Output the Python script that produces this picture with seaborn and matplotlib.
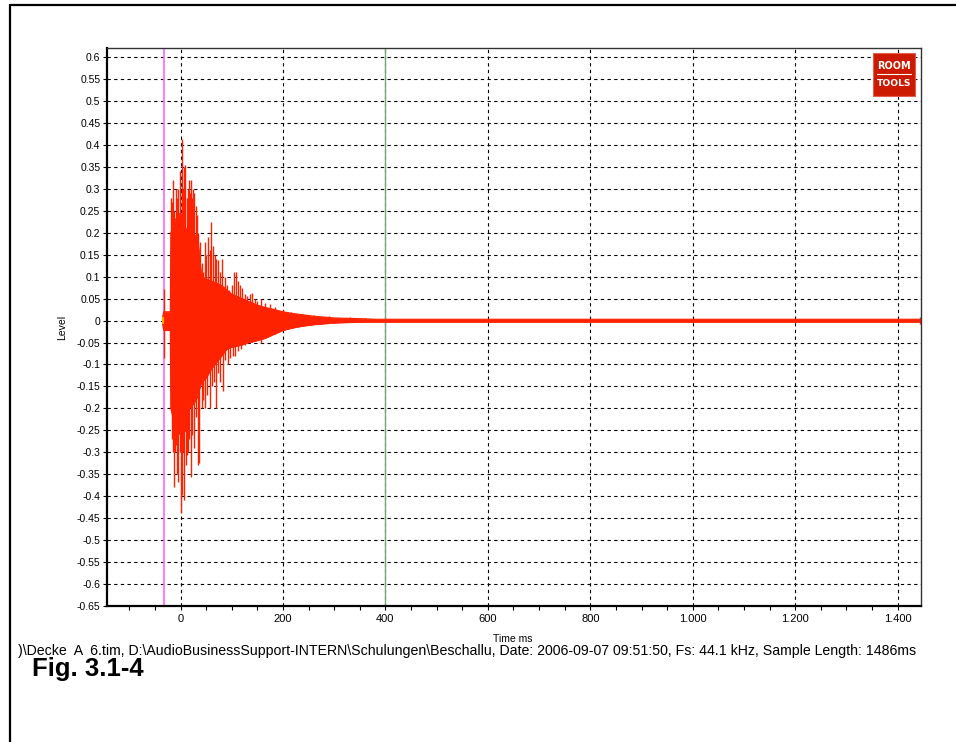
import numpy as np
import pandas as pd
import matplotlib
matplotlib.use("Agg")
import matplotlib.pyplot as plt
import seaborn as sns
from matplotlib.lines import Line2D
from matplotlib.patches import Rectangle
from matplotlib.ticker import FixedLocator, MultipleLocator

# ---------------- data ----------------
# solid body of the impulse response (envelope), time in ms
body_t = [-35, -33, -30, -25, -20, -19, -15, -10, -5, 0, 5, 10, 15, 20, 25, 30, 34, 38, 41,
          50, 60, 70, 80, 90, 100, 110, 120, 130, 140, 150, 165, 180, 200, 220, 240, 260,
          280, 300, 330, 360, 380, 400, 1440, 1445]
body_hi = [0.008, 0.02, 0.02, 0.02, 0.02, 0.2, 0.21, 0.23, 0.24, 0.245, 0.23, 0.21, 0.2, 0.2,
           0.2, 0.19, 0.18, 0.13, 0.1, 0.095, 0.09, 0.085, 0.08, 0.07, 0.06, 0.055, 0.05,
           0.045, 0.04, 0.035, 0.03, 0.026, 0.02, 0.016, 0.013, 0.01, 0.008, 0.006, 0.005,
           0.004, 0.003, 0.003, 0.003, 0.003]
body_lo = [-0.008, -0.022, -0.022, -0.022, -0.022, -0.2, -0.22, -0.25, -0.255, -0.26, -0.255,
           -0.25, -0.2, -0.195, -0.19, -0.18, -0.17, -0.15, -0.14, -0.13, -0.11, -0.095,
           -0.08, -0.065, -0.06, -0.058, -0.055, -0.05, -0.048, -0.045, -0.04, -0.032,
           -0.022, -0.016, -0.012, -0.009, -0.007, -0.005, -0.004, -0.003, -0.003, -0.003,
           -0.003, -0.003]

# positive peaks (ms, level)
pos_t = [-32, -19, -17, -14, -12, -9, -7, -4, -1, 2, 4, 6, 9, 12, 15, 17, 19, 21, 23, 25,
         27, 30, 32, 35, 38, 41, 44, 47, 50, 54, 57, 59, 63, 67, 70, 74, 78, 81, 86, 90, 95,
         100, 104, 108, 112, 116, 120, 125, 130, 135, 140, 145, 150, 158, 165, 175, 185,
         200, 215, 235, 260, 290, 330, 360, 1443]
pos_v = [0.073, 0.28, 0.27, 0.32, 0.25, 0.30, 0.28, 0.30, 0.34, 0.414, 0.30, 0.35, 0.354,
         0.28, 0.30, 0.32, 0.29, 0.32, 0.28, 0.30, 0.29, 0.26, 0.24, 0.2, 0.18, 0.13, 0.11,
         0.18, 0.15, 0.19, 0.16, 0.225, 0.17, 0.15, 0.14, 0.137, 0.11, 0.14, 0.1, 0.08,
         0.07, 0.08, 0.11, 0.11, 0.09, 0.08, 0.075, 0.06, 0.055, 0.06, 0.062, 0.05, 0.045,
         0.05, 0.04, 0.038, 0.032, 0.025, 0.02, 0.016, 0.013, 0.01, 0.008, 0.005, 0.008]

# negative peaks (ms, level)
neg_t = [-32, -19, -17, -15, -12.5, -10, -8, -6, -4.7, -2, 0.6, 3, 5, 7, 10, 12, 14, 17,
         19.5, 23, 26.6, 30, 34, 36, 41, 44, 48, 52, 57, 61, 65, 70, 74, 78, 83, 87, 92,
         97, 102, 106, 112, 118, 125, 132, 140, 150, 158, 170, 185, 200, 220, 245, 270,
         300, 340, 1443]
neg_v = [-0.086, -0.2, -0.27, -0.3, -0.378, -0.3, -0.284, -0.35, -0.367, -0.3, -0.439,
         -0.397, -0.3, -0.409, -0.33, -0.306, -0.3, -0.27, -0.356, -0.26, -0.291, -0.22,
         -0.329, -0.325, -0.2, -0.18, -0.2, -0.17, -0.2, -0.15, -0.14, -0.2, -0.12, -0.14,
         -0.16, -0.09, -0.1, -0.085, -0.08, -0.08, -0.07, -0.065, -0.055, -0.05, -0.048,
         -0.045, -0.05, -0.035, -0.03, -0.022, -0.016, -0.011, -0.008, -0.005, -0.004,
         -0.008]

# cursor markers (ms)
cursor_left = -32.6
cursor_right = 400

# axis ticks
x_ticks = [0, 200, 400, 600, 800, 1000, 1200, 1400]
x_tick_labels = ["0", "200", "400", "600", "800", "1.000", "1.200", "1.400"]
y_ticks = [0.6, 0.55, 0.5, 0.45, 0.4, 0.35, 0.3, 0.25, 0.2, 0.15, 0.1, 0.05, 0,
           -0.05, -0.1, -0.15, -0.2, -0.25, -0.3, -0.35, -0.4, -0.45, -0.5, -0.55,
           -0.6, -0.65]
y_tick_labels = ["0.6", "0.55", "0.5", "0.45", "0.4", "0.35", "0.3", "0.25", "0.2",
                 "0.15", "0.1", "0.05", "0", "-0.05", "-0.1", "-0.15", "-0.2", "-0.25",
                 "-0.3", "-0.35", "-0.4", "-0.45", "-0.5", "-0.55", "-0.6", "-0.65"]

footer = (")\\Decke  A  6.tim, D:\\AudioBusinessSupport-INTERN\\Schulungen\\Beschallu, "
          "Date: 2006-09-07 09:51:50, Fs: 44.1 kHz, Sample Length: 1486ms")

# ---------------- drawing ----------------
sns.set_theme(style="white")
plt.rcParams['font.family'] = ['Liberation Sans', 'DejaVu Sans']

W, H = 956, 742
fig = plt.figure(figsize=(W / 100, H / 100), dpi=100)
fig.patch.set_facecolor('white')

L, R, T, B = 107.3, 920.7, 48.3, 606.0
ax = fig.add_axes([L / W, 1 - B / H, (R - L) / W, (B - T) / H])
ax.set_facecolor('white')

RED = '#ff2200'

# cursors
ax.axvline(cursor_left, color='#ff66ff', lw=1.2, zorder=1.5)
ax.axvline(cursor_right, color='#7aa77a', lw=1.0, zorder=1.5)

# waveform body
ax.fill_between(body_t, body_lo, body_hi, color=RED, lw=0.5, zorder=2)
env = pd.DataFrame({
    't': list(body_t) + list(body_t),
    'v': list(body_hi) + list(body_lo),
    'edge': ['hi'] * len(body_t) + ['lo'] * len(body_t),
})
sns.lineplot(data=env, x='t', y='v', hue='edge', palette=[RED, RED], estimator=None,
             legend=False, lw=0.8, ax=ax, zorder=2)

# peaks
ax.vlines(pos_t, 0, pos_v, color=RED, lw=1.0, zorder=2.2)
ax.vlines(neg_t, neg_v, 0, color=RED, lw=1.0, zorder=2.2)
ax.vlines([-34.5], [-0.008], [0.008], color='#ffaa00', lw=1.6, zorder=2.3)

ax.set_xlim(-143, 1445)
ax.set_ylim(-0.65, 0.62)

ax.xaxis.set_major_locator(FixedLocator(x_ticks))
ax.set_xticklabels(x_tick_labels)
ax.xaxis.set_minor_locator(MultipleLocator(50))
ax.yaxis.set_major_locator(FixedLocator(y_ticks))
ax.set_yticklabels(y_tick_labels)

ax.grid(True, which='major', color='black', ls=(0, (3, 3)), lw=0.8, zorder=1)
ax.set_axisbelow(True)

ax.tick_params(axis='both', which='major', direction='out', length=3, width=0.8,
               labelsize=7.5, pad=2, colors='black', left=True, bottom=True)
ax.tick_params(axis='x', which='minor', direction='out', length=3, width=0.8,
               bottom=True, colors='black')
ax.tick_params(axis='x', which='major', pad=3, labelsize=8)

for side in ['top', 'right']:
    ax.spines[side].set_color('#333333')
    ax.spines[side].set_linewidth(1.0)
for side in ['left', 'bottom']:
    ax.spines[side].set_color('black')
    ax.spines[side].set_linewidth(1.6)

ax.set_xlabel('Time ms', fontsize=7.5, color='black')
ax.set_ylabel('Level', fontsize=7.5, color='black')
ax.xaxis.set_label_coords(0.499, -0.051)
ax.yaxis.set_label_coords(-0.05, 0.5)

# footer text, scaled to the measured width of the reference
ft = fig.text(18 / W, 1 - 651 / H, footer, fontsize=9, color='black', va='center', ha='left')
fig.canvas.draw()
ext = ft.get_window_extent()
ft.set_fontsize(9 * 900.0 / ext.width)

fig.text(32 / W, 1 - 676 / H, 'Fig. 3.1-4', fontsize=18.5, fontweight='bold',
         color='black', va='baseline', ha='left')

# logo
lx0, ly0, lx1, ly1 = 872.7, 52.7, 915.3, 95.7
fig.add_artist(Rectangle((lx0 / W, 1 - ly1 / H), (lx1 - lx0) / W, (ly1 - ly0) / H,
                         transform=fig.transFigure, facecolor='#cc1a00',
                         edgecolor='#e06050', lw=0.8, zorder=5))
cx = (lx0 + lx1) / 2
fig.text(cx / W, 1 - 66 / H, 'ROOM', fontsize=7, fontweight='bold', color='white',
         ha='center', va='center', family=['DejaVu Sans'], zorder=6)
fig.add_artist(Line2D([(lx0 + 4) / W, (lx1 - 4) / W], [1 - 74 / H, 1 - 74 / H],
                      transform=fig.transFigure, color='white', lw=0.8, zorder=6))
fig.text(cx / W, 1 - 83 / H, 'TOOLS', fontsize=6.6, fontweight='bold', color='white',
         ha='center', va='center', family=['DejaVu Sans'], zorder=6)

# outer frame
fig.add_artist(Line2D([10 / W, 10 / W], [0, 1 - 5 / H], transform=fig.transFigure,
                      color='black', lw=1.6))
fig.add_artist(Line2D([10 / W, 1], [1 - 5 / H, 1 - 5 / H], transform=fig.transFigure,
                      color='black', lw=1.6))

fig.savefig('out.png', dpi=100, facecolor='white')
